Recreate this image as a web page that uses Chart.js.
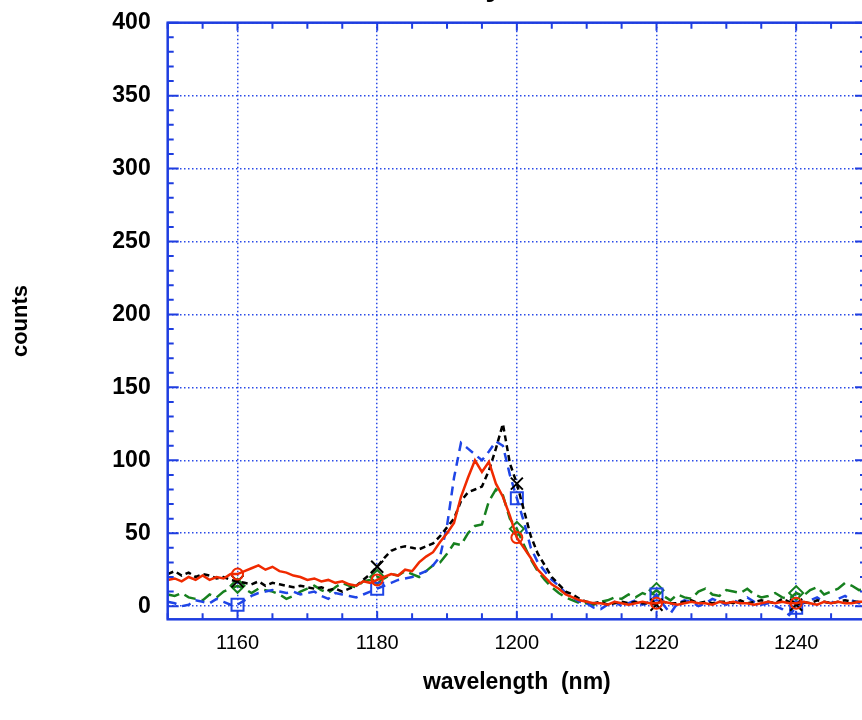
<!DOCTYPE html>
<html>
<head>
<meta charset="utf-8">
<script src="https://cdn.jsdelivr.net/npm/chart.js@4/dist/chart.umd.min.js"></script>
<style>
  html, body { margin: 0; padding: 0; background: #fff; overflow: hidden; }
  #wrap { width: 870px; height: 720px; }
</style>
</head>
<body>
<div id="wrap"><canvas id="c" width="870" height="720"></canvas></div>
<script>
// sample grid (nm)
const wavelengths = Array.from({length: 101}, (_, i) => 1150 + i);

const redCounts = [
  18, 19, 17, 20, 18, 21, 18, 20, 19, 22,
  22, 24, 26, 28, 25, 27, 24, 23, 21, 20,
  18, 19, 17, 18, 16, 17, 15, 14, 17, 16,
  18, 20, 22, 21, 25, 24, 30, 34, 37, 44,
  50, 57, 75, 88, 100, 92, 99, 84, 75, 62,
  47, 40, 33, 25, 20, 15, 12, 8, 6, 4,
  3, 2, 2, 1, 3, 2, 1, 2, 3, 2,
  2, 3, 2, 1, 2, 3, 2, 2, 1, 3,
  2, 3, 2, 2, 1, 2, 3, 2, 3, 2,
  2, 3, 2, 1, 3, 2, 3, 2, 2, 3,
  3
];

const blackCounts = [
  22, 24, 21, 23, 20, 22, 21, 19, 20, 18,
  17, 16, 15, 17, 14, 16, 15, 14, 13, 14,
  13, 12, 13, 11, 12, 10, 12, 14, 18, 22,
  27, 33, 38, 40, 41, 40, 39, 41, 43, 48,
  54, 60, 72, 78, 80, 82, 93, 108, 125, 98,
  84, 66, 48, 36, 28, 20, 15, 10, 8, 5,
  3, 2, 3, 1, 2, 3, 2, 3, 2, 2,
  1, 3, 2, 2, 3, 4, 2, 3, 2, 3,
  3, 2, 4, 2, 3, 4, 3, 2, 5, 3,
  1, 3, 2, 4, 3, 2, 3, 4, 3, 3,
  3
];

const blueCounts = [
  3, 2, 0, 1, 4, 3, 2, 5, 3, 1,
  1, 4, 7, 9, 10, 11, 10, 9, 10, 8,
  9, 10, 7, 5, 9, 8, 7, 6, 8, 10,
  12, 14, 16, 18, 19, 20, 22, 24, 28, 34,
  55, 88, 112, 108, 104, 100, 106, 113, 110, 90,
  74, 58, 40, 30, 24, 18, 14, 9, 6, 3,
  2, -1, -2, 1, 3, 0, 2, 4, 1, 3,
  8, 1, -5, 2, 4, 3, 0, 2, 5, 3,
  1, 4, 2, 6, 3, 1, 2, 0, -2, -6,
  -1, 2, 4, 6, 3, 2, 5, 7, 4, 2,
  3
];

const greenCounts = [
  8, 7, 9, 6, 5, 4, 8, 6, 10, 12,
  14, 12, 9, 12, 11, 10, 8, 5, 7, 10,
  12, 14, 11, 9, 13, 16, 14, 13, 17, 18,
  20, 19, 22, 21, 24, 22, 20, 24, 28, 30,
  36, 43, 42, 50, 55, 56, 72, 80, 76, 60,
  53, 42, 32, 24, 18, 13, 9, 6, 4, 2,
  2, 1, 3, 4, 6, 5, 8, 6, 9, 7,
  11, 7, 4, 8, 6, 5, 10, 12, 8, 7,
  11, 10, 9, 12, 8, 6, 7, 9, 6, 5,
  9, 7, 11, 13, 8, 10, 12, 16, 14, 11,
  12
];

const xTickLabels = [1160, 1180, 1200, 1220, 1240];
const yTickLabels = [0, 50, 100, 150, 200, 250, 300, 350, 400];
const markerWavelengths = [1160, 1180, 1200, 1220, 1240];

const AXIS_BLUE = '#1e3de0';
const GRID_BLUE = '#2a4ae8';
const FONT = '"Liberation Sans", Arial, Helvetica, sans-serif';

function toPoints(vals) {
  return wavelengths.map((w, i) => ({x: w, y: vals[i]}));
}
function markerRadius(r) {
  return ctx => (ctx.raw && markerWavelengths.includes(ctx.raw.x)) ? r : 0;
}

function makeSet(label, vals, color, dash, style, r, width) {
  return {
    label, data: toPoints(vals),
    borderColor: color, borderWidth: width, borderDash: dash,
    pointStyle: style, pointRadius: markerRadius(r), pointHoverRadius: 0,
    pointBorderColor: color, pointBackgroundColor: 'rgba(0,0,0,0)',
    pointBorderWidth: 2, tension: 0, fill: false
  };
}

const frameTicks = {
  id: 'frameTicks',
  afterDraw(chart) {
    const {ctx, chartArea: a, scales: {x, y}} = chart;
    ctx.save();
    ctx.setLineDash([]);
    ctx.strokeStyle = AXIS_BLUE;
    ctx.lineWidth = 2;
    for (let v = 1150; v <= 1250; v += 5) {
      const px = x.getPixelForValue(v);
      const len = (v % 20 === 0) ? 8 : 6;
      ctx.beginPath();
      ctx.moveTo(px, a.bottom); ctx.lineTo(px, a.bottom - len);
      ctx.moveTo(px, a.top); ctx.lineTo(px, a.top + len);
      ctx.stroke();
    }
    for (let v = 0; v <= 400; v += 10) {
      const py = y.getPixelForValue(v);
      const len = (v % 50 === 0) ? 11 : 6;
      ctx.beginPath();
      ctx.moveTo(a.left, py); ctx.lineTo(a.left + len, py);
      ctx.moveTo(a.right, py); ctx.lineTo(a.right - len, py);
      ctx.stroke();
    }
    ctx.lineWidth = 2.5;
    ctx.strokeRect(a.left, a.top, a.right - a.left, a.bottom - a.top);
    // title (only its descender remains inside the picture)
    ctx.fillStyle = '#000';
    ctx.font = 'bold 32px ' + FONT;
    ctx.textAlign = 'right';
    ctx.textBaseline = 'alphabetic';
    ctx.fillText('Intensity', 503, -5);
    ctx.restore();
  }
};

new Chart(document.getElementById('c'), {
  type: 'line',
  data: {
    datasets: [
      makeSet('red', redCounts, '#f02a00', [], 'circle', 5.5, 2.5),
      makeSet('black', blackCounts, '#000000', [6, 4], 'crossRot', 8.5, 2.5),
      makeSet('blue', blueCounts, '#1f45e6', [9, 6], 'rect', 8.5, 2.5),
      makeSet('green', greenCounts, '#17801f', [12, 6], 'rectRot', 7, 2.5)
    ]
  },
  options: {
    responsive: false,
    animation: false,
    events: [],
    layout: { padding: { top: 22.7, right: 4, bottom: 0, left: 0 } },
    plugins: { legend: { display: false }, tooltip: { enabled: false }, title: { display: false } },
    scales: {
      x: {
        type: 'linear', min: 1150, max: 1250,
        afterBuildTicks: s => { s.ticks = xTickLabels.map(v => ({value: v})); },
        afterFit: s => { s.height = 100.7; s.paddingLeft = 0; s.paddingRight = 0; },
        grid: { color: GRID_BLUE, lineWidth: 1.5, drawTicks: false },
        border: { display: false, dash: [1.5, 2.5] },
        ticks: { color: '#000', padding: 12, maxRotation: 0, autoSkip: false,
                 callback: v => String(v),
                 font: { family: FONT, size: 20 } },
        title: { display: true, text: 'wavelength  (nm)', color: '#000',
                 font: { family: FONT, size: 23, weight: 'bold' }, padding: { bottom: 24 } }
      },
      y: {
        type: 'linear', min: -9, max: 400,
        afterBuildTicks: s => { s.ticks = yTickLabels.map(v => ({value: v})); },
        afterFit: s => { s.width = 167.7; s.paddingTop = 0; s.paddingBottom = 0; },
        grid: { color: GRID_BLUE, lineWidth: 1.5, drawTicks: false },
        border: { display: false, dash: [1.5, 2.5] },
        ticks: { color: '#000', padding: 17, autoSkip: false,
                 callback: v => String(v),
                 font: { family: FONT, size: 23, weight: 'bold' } },
        title: { display: true, text: 'counts', color: '#000',
                 font: { family: FONT, size: 22, weight: 'bold' }, padding: { top: 8 } }
      }
    }
  },
  plugins: [frameTicks]
});
</script>
</body>
</html>
